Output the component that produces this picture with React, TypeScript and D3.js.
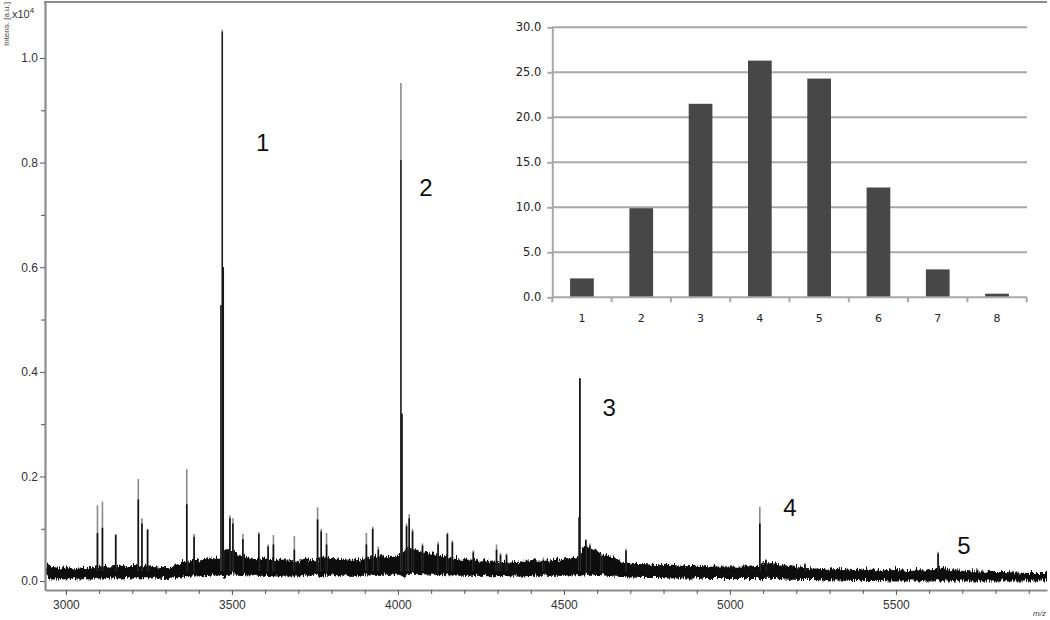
import * as d3 from "d3";
import { useEffect, useRef } from "react";

// spectrum: noise band envelope (m/z, lower, upper) in x10^4 a.u.
const bandMz = [2938, 2950, 2975, 3000, 3025, 3050, 3075, 3100, 3125, 3150, 3175, 3200, 3225, 3250, 3275, 3300, 3325, 3350, 3375, 3400, 3425, 3450, 3468, 3472, 3476, 3490, 3510, 3540, 3570, 3600, 3630, 3660, 3690, 3720, 3750, 3760, 3790, 3820, 3850, 3880, 3910, 3940, 3970, 4000, 4010, 4020, 4040, 4070, 4100, 4130, 4160, 4190, 4220, 4250, 4280, 4310, 4340, 4370, 4400, 4430, 4460, 4490, 4520, 4545, 4550, 4556, 4580, 4610, 4640, 4670, 4700, 4740, 4780, 4820, 4860, 4900, 4940, 4980, 5020, 5060, 5085, 5092, 5100, 5130, 5170, 5210, 5250, 5290, 5330, 5370, 5410, 5450, 5490, 5530, 5570, 5610, 5630, 5660, 5700, 5740, 5780, 5820, 5860, 5900, 5955]
const bandLow = [0.009, 0.008, 0.008, 0.009, 0.008, 0.009, 0.008, 0.010, 0.010, 0.010, 0.010, 0.010, 0.011, 0.010, 0.010, 0.009, 0.010, 0.012, 0.014, 0.014, 0.015, 0.016, 0.017, 0.010, 0.016, 0.018, 0.017, 0.016, 0.015, 0.015, 0.014, 0.014, 0.014, 0.015, 0.015, 0.013, 0.016, 0.015, 0.015, 0.015, 0.016, 0.017, 0.017, 0.018, 0.012, 0.019, 0.019, 0.018, 0.017, 0.016, 0.016, 0.015, 0.015, 0.015, 0.014, 0.015, 0.014, 0.014, 0.015, 0.015, 0.015, 0.015, 0.016, 0.016, 0.010, 0.017, 0.017, 0.016, 0.014, 0.013, 0.012, 0.011, 0.011, 0.010, 0.010, 0.010, 0.009, 0.009, 0.009, 0.009, 0.009, 0.006, 0.010, 0.009, 0.008, 0.007, 0.007, 0.006, 0.006, 0.005, 0.005, 0.005, 0.004, 0.004, 0.004, 0.004, 0.004, 0.004, 0.004, 0.004, 0.004, 0.004, 0.004, 0.004, 0.004]
const bandHigh = [0.036, 0.031, 0.027, 0.029, 0.026, 0.028, 0.027, 0.033, 0.030, 0.032, 0.030, 0.034, 0.031, 0.033, 0.030, 0.029, 0.031, 0.040, 0.044, 0.042, 0.045, 0.048, 0.047, 0.045, 0.066, 0.062, 0.055, 0.048, 0.044, 0.046, 0.043, 0.044, 0.041, 0.044, 0.042, 0.048, 0.046, 0.043, 0.044, 0.042, 0.047, 0.050, 0.048, 0.052, 0.055, 0.068, 0.064, 0.058, 0.055, 0.050, 0.046, 0.043, 0.044, 0.040, 0.042, 0.040, 0.038, 0.041, 0.043, 0.041, 0.043, 0.044, 0.046, 0.050, 0.060, 0.072, 0.064, 0.055, 0.048, 0.040, 0.036, 0.035, 0.033, 0.034, 0.031, 0.032, 0.030, 0.031, 0.030, 0.031, 0.032, 0.036, 0.040, 0.036, 0.032, 0.028, 0.027, 0.025, 0.026, 0.024, 0.025, 0.023, 0.024, 0.022, 0.023, 0.024, 0.028, 0.024, 0.022, 0.021, 0.020, 0.020, 0.019, 0.018, 0.018]

// peaks: m/z, height of grey trace, height of black trace
const peakMz = [3095, 3110, 3150, 3218, 3229, 3246, 3364, 3386, 3467, 3471, 3474, 3494, 3503, 3533, 3581, 3609, 3625, 3688, 3758, 3769, 3785, 3905, 3924, 3941, 4009, 4012, 4026, 4034, 4044, 4074, 4121, 4149, 4164, 4227, 4297, 4309, 4327, 4438, 4546, 4548, 4566, 4578, 4613, 4687, 5090, 5108, 5226, 5627]
const peakGrey = [0.145, 0.152, 0.090, 0.195, 0.120, 0.100, 0.214, 0.090, 0.528, 1.054, 0.600, 0.126, 0.120, 0.090, 0.094, 0.070, 0.088, 0.086, 0.141, 0.100, 0.092, 0.092, 0.104, 0.066, 0.952, 0.320, 0.110, 0.128, 0.100, 0.072, 0.075, 0.093, 0.078, 0.059, 0.070, 0.054, 0.053, 0.045, 0.122, 0.388, 0.080, 0.072, 0.052, 0.062, 0.142, 0.042, 0.034, 0.056]
const peakBlack = [0.092, 0.102, 0.088, 0.156, 0.110, 0.098, 0.147, 0.085, 0.528, 1.050, 0.600, 0.120, 0.110, 0.080, 0.090, 0.066, 0.070, 0.060, 0.118, 0.095, 0.070, 0.070, 0.100, 0.060, 0.805, 0.320, 0.105, 0.120, 0.095, 0.068, 0.070, 0.090, 0.074, 0.055, 0.060, 0.050, 0.050, 0.040, 0.122, 0.388, 0.078, 0.068, 0.048, 0.058, 0.110, 0.040, 0.032, 0.053]

// numbered labels next to the main peaks
const labelText = ["1", "2", "3", "4", "5"]
const labelMz = [3593, 4084, 4636, 5181, 5705]
const labelY = [0.839, 0.752, 0.331, 0.140, 0.069]

const yMajor = [0, 0.2, 0.4, 0.6, 0.8, 1.0]
const yMinor = [0.1, 0.3, 0.5, 0.7, 0.9]
const xMajor = [3000, 3500, 4000, 4500, 5000, 5500]

// inset bar chart
const insetCats = ["1", "2", "3", "4", "5", "6", "7", "8"]
const insetVals = [2.1, 9.9, 21.5, 26.3, 24.3, 12.2, 3.1, 0.4]
const insetTicks = [0, 5, 10, 15, 20, 25, 30]

const FONT = "'Liberation Sans', Arial, sans-serif"

export default function App() {
    const ref = useRef<SVGSVGElement>(null)

    useEffect(() => {
        const svg = d3.select(ref.current)
        svg.selectAll("*").remove()

        const x = d3.scaleLinear().domain([2937, 5955]).range([45, 1047])
        const y = d3.scaleLinear().domain([-0.017, 1.107]).range([590, 2])

        const defs = svg.append("defs")
        defs.append("clipPath").attr("id", "plotclip").append("rect")
            .attr("x", 46).attr("y", 3).attr("width", 1001).attr("height", 586)
        // rough edge for the noise band
        const filt = defs.append("filter").attr("id", "rough")
            .attr("x", "-1%").attr("y", "-60%").attr("width", "102%").attr("height", "220%")
        filt.append("feTurbulence").attr("type", "turbulence").attr("baseFrequency", "0.9 0.08")
            .attr("numOctaves", 2).attr("seed", 4).attr("result", "t")
        filt.append("feDisplacementMap").attr("in", "SourceGraphic").attr("in2", "t")
            .attr("scale", 7).attr("xChannelSelector", "B").attr("yChannelSelector", "R")

        const plot = svg.append("g").attr("clip-path", "url(#plotclip)")

        // noise band
        const band = bandMz.map((m, i) => ({ m: m, lo: bandLow[i], hi: bandHigh[i] }))
        const area = d3.area<any>().x(d => x(d.m)).y0(d => y(d.lo)).y1(d => y(d.hi))
        plot.append("g").attr("filter", "url(#rough)")
            .append("path").attr("d", area(band)).attr("fill", "#111").attr("stroke", "#111")
            .attr("stroke-width", 1.2)

        const peaks = peakMz.map((m, i) => ({ m: m, g: peakGrey[i], b: peakBlack[i] }))
        plot.selectAll(".pg").data(peaks).enter().append("line")
            .attr("x1", d => x(d.m)).attr("x2", d => x(d.m))
            .attr("y1", y(0.02)).attr("y2", d => y(d.g))
            .attr("stroke", "#8a8a8a").attr("stroke-width", 1.6)
        plot.selectAll(".pb").data(peaks).enter().append("line")
            .attr("x1", d => x(d.m)).attr("x2", d => x(d.m))
            .attr("y1", y(0.02)).attr("y2", d => y(d.b))
            .attr("stroke", "#111").attr("stroke-width", d => d.b > 0.5 ? 1.3 : 1.6)

        // axes
        const axisColor = "#8c8c8c"
        const gy = svg.append("g").attr("transform", "translate(45,0)")
            .call(d3.axisLeft(y).tickValues(yMajor).tickFormat(d3.format(".1f")).tickSize(5).tickSizeOuter(0))
        svg.append("g").attr("transform", "translate(45,0)")
            .call(d3.axisLeft(y).tickValues(yMinor).tickFormat(() => "").tickSize(4).tickSizeOuter(0))
            .select(".domain").remove()
        const gx = svg.append("g").attr("transform", "translate(0,590)")
            .call(d3.axisBottom(x).tickValues(xMajor).tickFormat(d3.format("d")).tickSize(5).tickSizeOuter(0))
        svg.append("g").attr("transform", "translate(0,590)")
            .call(d3.axisBottom(x).tickValues(d3.range(3000, 5901, 100).filter(v => v % 500 != 0)).tickFormat(() => "").tickSize(4).tickSizeOuter(0))
            .select(".domain").remove()
        svg.selectAll(".domain").attr("stroke", axisColor).attr("stroke-width", 2.2)
        svg.selectAll(".tick line").attr("stroke", "#555")
        gy.selectAll("text").style("font", "12px " + FONT).attr("fill", "#333").attr("x", -7)
        gx.selectAll("text").style("font", "12px " + FONT).attr("fill", "#333").attr("y", 10)
        svg.append("line").attr("x1", 44).attr("x2", 1047).attr("y1", 2).attr("y2", 2)
            .attr("stroke", axisColor).attr("stroke-width", 2.2)

        svg.append("text").attr("transform", "translate(9,2) rotate(-90)").attr("text-anchor", "end")
            .style("font", "8px " + FONT).attr("fill", "#444").text("Intens. [a.u.]")
        const t = svg.append("text").attr("x", 12).attr("y", 18).style("font", "11px " + FONT).attr("fill", "#333")
        t.append("tspan").text("x10")
        t.append("tspan").attr("dy", -5).style("font-size", "8px").text("4")
        svg.append("text").attr("x", 1046).attr("y", 616).attr("text-anchor", "end")
            .style("font", "italic 8px " + FONT).attr("fill", "#444").text("m/z")

        svg.selectAll(".plab").data(labelText).enter().append("text")
            .attr("x", (d, i) => x(labelMz[i])).attr("y", (d, i) => y(labelY[i]))
            .attr("text-anchor", "middle").attr("dominant-baseline", "central")
            .style("font", "24px " + FONT).attr("fill", "#111").text(d => d)

        // inset
        const xi = d3.scaleBand().domain(insetCats).range([552.3, 1026.7]).paddingInner(0.6).paddingOuter(0.3)
        const yi = d3.scaleLinear().domain([0, 30]).range([297.3, 27.3])
        const gridColor = "#a8a8a8"
        svg.selectAll(".grid").data(insetTicks.slice(1)).enter().append("line")
            .attr("x1", 552).attr("x2", 1027).attr("y1", d => yi(d)).attr("y2", d => yi(d))
            .attr("stroke", gridColor).attr("stroke-width", 2)
        svg.selectAll(".bar").data(insetVals).enter().append("rect")
            .attr("x", (d, i) => xi(insetCats[i])!).attr("width", xi.bandwidth())
            .attr("y", d => yi(d)).attr("height", d => yi(0) - yi(d))
            .attr("fill", "#474747")
        const gyi = svg.append("g").attr("transform", "translate(552.3,0)")
            .call(d3.axisLeft(yi).tickValues(insetTicks).tickFormat(d3.format(".1f")).tickSize(5).tickSizeOuter(0))
        gyi.select(".domain").attr("stroke", gridColor).attr("stroke-width", 2)
        gyi.selectAll(".tick line").attr("stroke", gridColor).attr("stroke-width", 2)
        gyi.selectAll("text").style("font", "11.5px 'DejaVu Sans', Verdana, sans-serif").attr("fill", "#222").attr("x", -11)
        const step = xi.step()
        svg.append("line").attr("x1", 552).attr("x2", 1027).attr("y1", yi(0)).attr("y2", yi(0))
            .attr("stroke", gridColor).attr("stroke-width", 2)
        svg.selectAll(".xt").data(d3.range(insetCats.length + 1)).enter().append("line")
            .attr("x1", d => 552.3 + d * step).attr("x2", d => 552.3 + d * step)
            .attr("y1", yi(0)).attr("y2", yi(0) + 5)
            .attr("stroke", gridColor).attr("stroke-width", 2)
        svg.selectAll(".xl").data(insetCats).enter().append("text")
            .attr("x", d => xi(d)! + xi.bandwidth() / 2).attr("y", 322)
            .attr("text-anchor", "middle")
            .style("font", "11px 'DejaVu Sans', Verdana, sans-serif").attr("fill", "#222").text(d => d)
    }, [])

    return (
        <svg ref={ref} width={1050} height={620}
            style={{ position: "absolute", left: 0, top: 0, background: "white" }}>
        </svg>
    )
}
